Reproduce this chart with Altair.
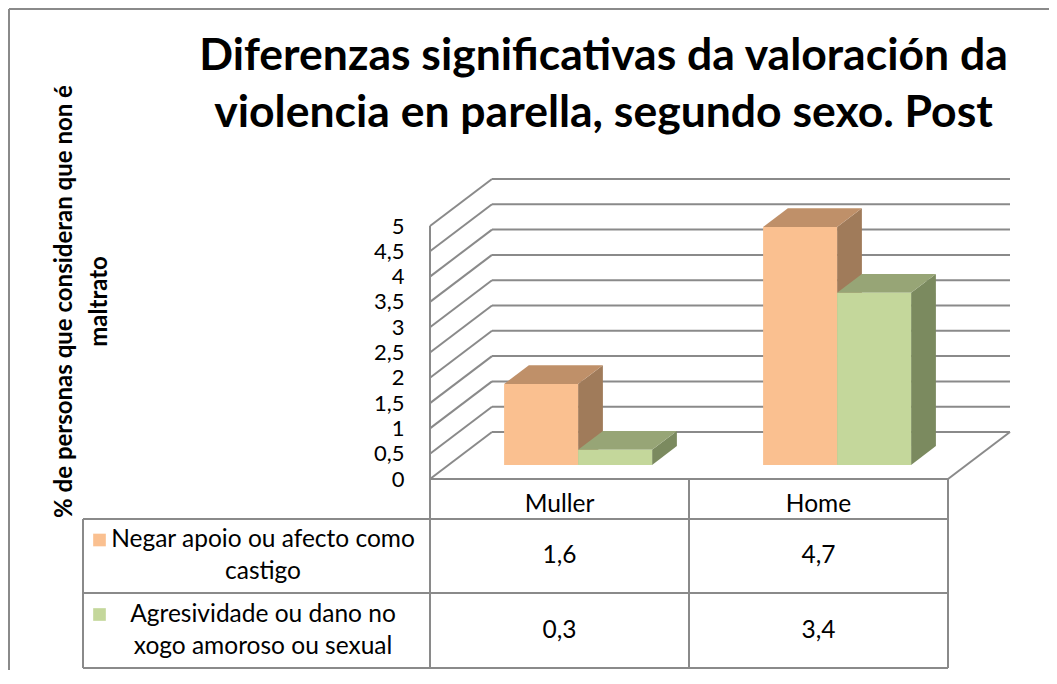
import altair as alt
import pandas as pd

# ---------------- data ----------------
categories = ["Muller", "Home"]
series_names = ["Negar apoio ou afecto como castigo",
                "Agresividade ou dano no xogo amoroso ou sexual"]
series_label_lines = [["Negar apoio ou afecto como", "castigo"],
                      ["Agresividade ou dano no", "xogo amoroso ou sexual"]]
negar_values = [1.6, 4.7]
agresividade_values = [0.3, 3.4]
y_tick_values = [0, 0.5, 1, 1.5, 2, 2.5, 3, 3.5, 4, 4.5, 5]
title_lines = ["Diferenzas significativas da valoración da",
               "violencia en parella, segundo sexo. Post"]
y_title_lines = ["% de personas que consideran que non é", "maltrato"]

# ---------------- style ----------------
front_colors = ["#FAC090", "#C4D79B"]
top_colors = ["#BF9069", "#97A576"]
side_colors = ["#A07B5A", "#7B8A5F"]
LINE_COLOR = "#8A8A8A"
FONT = "Lato"
TABLE_FS = 24.5
LABEL_LH = 32

# ---------------- layout (reference page pixels) ----------------
PLOT_LEFT, PLOT_TOP, PLOT_W, PLOT_H = 8, 170, 1041, 502
SHIFT = 4
ORIGIN_X, ORIGIN_Y = 430, 483          # front-left floor corner (value 0)
PX_SLOT, PX_UNIT = 259.0, 50.6


def ux(px):
    return (px - ORIGIN_X) / PX_SLOT


def vy(py):
    return (ORIGIN_Y - py) / PX_UNIT


DEPTH_X = 62 / PX_SLOT
DEPTH_Y = 47 / PX_UNIT
BAR_W = 74 / PX_SLOT
BAR_START, BAR_DEPTH = 0.3, 0.4
TABLE_LEFT = ux(83)
ROW_TOPS = [vy(483), vy(523), vy(597), vy(672)]
n_cat = len(categories)
top_val = max(y_tick_values)

x_scale = alt.Scale(domain=[ux(PLOT_LEFT), ux(PLOT_LEFT + PLOT_W)], nice=False, zero=False)
y_scale = alt.Scale(domain=[vy(PLOT_TOP + PLOT_H), vy(PLOT_TOP)], nice=False, zero=False)

y_axis = alt.Axis(
    values=y_tick_values,
    labelExpr="replace(toString(datum.value), '.', ',')",
    domain=False, ticks=False, tickSize=0, grid=False,
    labelPadding=26, offset=-(ORIGIN_X - PLOT_LEFT),
    labelFont=FONT, labelFontSize=22, labelColor="black",
    title=y_title_lines, titleFont=FONT, titleFontSize=24, titleFontWeight="bold",
    titleColor="black", titleAngle=270, titleAlign="center", titleBaseline="top",
    titleLineHeight=35, titleX=52 - ORIGIN_X, titleY=305 - PLOT_TOP,
)


def X(f):
    return alt.X(f"{f}:Q", scale=x_scale, axis=None)


def Y(f):
    return alt.Y(f"{f}:Q", scale=y_scale, axis=y_axis)


# ---------------- frame, 3D walls, table lines ----------------
rules = []
for t in y_tick_values:
    rules.append(dict(x=DEPTH_X, x2=n_cat + DEPTH_X, y=t + DEPTH_Y, y2=t + DEPTH_Y))
    rules.append(dict(x=0, x2=DEPTH_X, y=t, y2=t + DEPTH_Y))
rules.append(dict(x=n_cat, x2=n_cat + DEPTH_X, y=0, y2=DEPTH_Y))
rules.append(dict(x=0, x2=0, y=top_val, y2=ROW_TOPS[3]))
rules.append(dict(x=0, x2=n_cat, y=0, y2=0))
for r in ROW_TOPS[1:]:
    rules.append(dict(x=TABLE_LEFT, x2=n_cat, y=r, y2=r))
rules.append(dict(x=TABLE_LEFT, x2=TABLE_LEFT, y=ROW_TOPS[1], y2=ROW_TOPS[3]))
for i in range(1, n_cat + 1):
    rules.append(dict(x=i, x2=i, y=0, y2=ROW_TOPS[3]))
# outer frame (top and left edges)
fy = vy(8 + SHIFT + 1)
rules.append(dict(x=ux(9), x2=ux(9), y=fy, y2=vy(PLOT_TOP + PLOT_H + 2)))
rules.append(dict(x=ux(9), x2=ux(PLOT_LEFT + PLOT_W), y=fy, y2=fy))
rules_df = pd.DataFrame(rules)

rule_layer = alt.Chart(rules_df).mark_rule(color=LINE_COLOR, strokeWidth=2).encode(
    x=X("x"), x2="x2", y=Y("y"), y2="y2"
)

# ---------------- 3D bars ----------------
values_by_series = [negar_values, agresividade_values]
fronts, tops, sides = [], [], []
ddx, ddy = BAR_DEPTH * DEPTH_X, BAR_DEPTH * DEPTH_Y
for i, cat in enumerate(categories):
    for j, vals in enumerate(values_by_series):
        val = vals[i]
        key = f"{cat}-{j}"
        s = series_names[j]
        x0 = i + 0.5 - BAR_W + j * BAR_W + BAR_START * DEPTH_X
        x1 = x0 + BAR_W
        y0 = BAR_START * DEPTH_Y
        y1 = y0 + val
        fronts.append(dict(bar=key, series=s, x=x0, x2=x1, y=y0, y2=y1))
        tops.append(dict(bar=key, series=s, y=y1, x=x0, x2=x1))
        tops.append(dict(bar=key, series=s, y=y1 + ddy, x=x0 + ddx, x2=x1 + ddx))
        sides.append(dict(bar=key, series=s, x=x1, y=y0, y2=y1))
        sides.append(dict(bar=key, series=s, x=x1 + ddx, y=y0 + ddy, y2=y1 + ddy))

side_layer = alt.Chart(pd.DataFrame(sides)).mark_area(orient="vertical", opacity=1).encode(
    x=X("x"), y=Y("y"), y2="y2", detail="bar:N",
    color=alt.Color("series:N", scale=alt.Scale(domain=series_names, range=side_colors), legend=None),
)
top_layer = alt.Chart(pd.DataFrame(tops)).mark_area(orient="horizontal", opacity=1).encode(
    y=Y("y"), x=X("x"), x2="x2", detail="bar:N",
    color=alt.Color("series:N", scale=alt.Scale(domain=series_names, range=top_colors), legend=None),
)
front_layer = alt.Chart(pd.DataFrame(fronts)).mark_rect(opacity=1).encode(
    x=X("x"), x2="x2", y=Y("y"), y2="y2",
    color=alt.Color("series:N", scale=alt.Scale(domain=series_names, range=front_colors), legend=None),
)

# ---------------- data table ----------------
row_mids = [(ROW_TOPS[k] + ROW_TOPS[k + 1]) / 2 for k in range(3)]
header_df = pd.DataFrame(dict(cat=categories, x=[i + 0.5 for i in range(n_cat)], y=[row_mids[0]] * n_cat))
vals_rows = []
for j, vals in enumerate(values_by_series):
    for i in range(n_cat):
        vals_rows.append(dict(value=vals[i], x=i + 0.5, y=row_mids[j + 1]))
labels_df = pd.DataFrame(dict(lines=series_label_lines, x=[ux(263)] * 2, y=row_mids[1:]))
swatch_df = pd.DataFrame(dict(series=series_names, x=[ux(99.5)] * 2,
                              y=[m + (LABEL_LH / 2) / PX_UNIT for m in row_mids[1:]]))

header_layer = alt.Chart(header_df).mark_text(
    font=FONT, fontSize=TABLE_FS, color="black", baseline="middle", align="center", dy=6
).encode(x=X("x"), y=Y("y"), text="cat:N")

values_layer = alt.Chart(pd.DataFrame(vals_rows)).transform_calculate(
    label="replace(format(datum.value, '.1f'), '.', ',')"
).mark_text(font=FONT, fontSize=TABLE_FS, color="black", baseline="middle", align="center").encode(
    x=X("x"), y=Y("y"), text="label:N"
)

labels_layer = alt.Chart(labels_df).mark_text(
    font=FONT, fontSize=TABLE_FS, color="black", baseline="middle", align="center",
    lineHeight=LABEL_LH, dy=-LABEL_LH / 2
).encode(x=X("x"), y=Y("y"), text="lines:N")

swatch_layer = alt.Chart(swatch_df).mark_square(size=160, opacity=1, filled=True).encode(
    x=X("x"), y=Y("y"),
    color=alt.Color("series:N", scale=alt.Scale(domain=series_names, range=front_colors), legend=None),
)

chart = alt.layer(
    rule_layer, side_layer, top_layer, front_layer,
    header_layer, values_layer, labels_layer, swatch_layer,
).resolve_scale(color="independent").properties(
    width=PLOT_W, height=PLOT_H,
    autosize=alt.AutoSizeParams(type="none"),
    padding={"left": PLOT_LEFT - 8, "top": PLOT_TOP - 8 - SHIFT, "right": 0, "bottom": 2},
    title=alt.Title(
        text=title_lines, font=FONT, fontSize=44.5, fontWeight="bold", lineHeight=57,
        anchor="middle", dx=75, offset=0, dy=163, baseline="alphabetic", color="black",
    ),
    background="white",
).configure_view(stroke=None)

chart.save("out.html", embed_options={"renderer": "svg", "actions": False})
